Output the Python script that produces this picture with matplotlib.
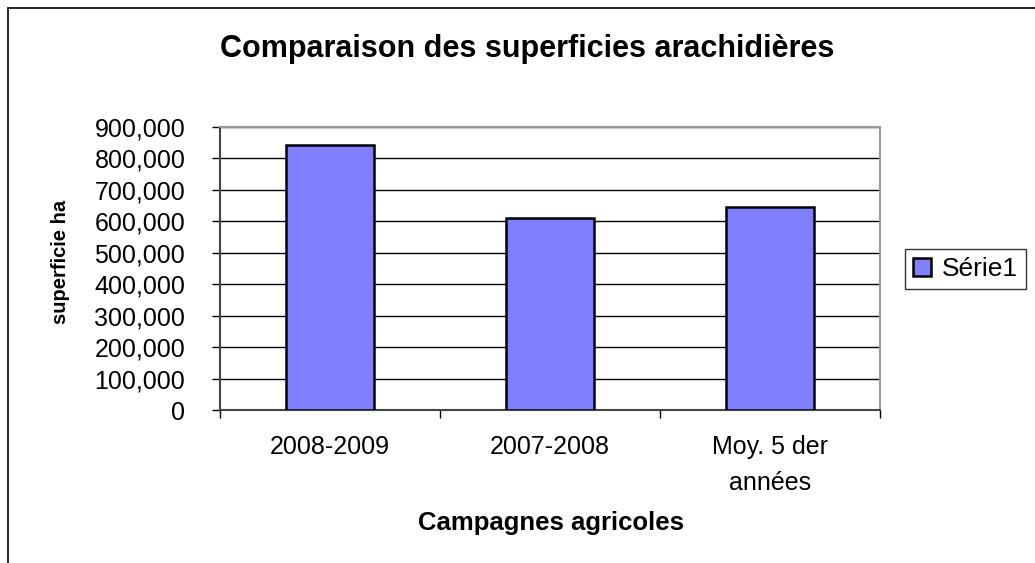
import matplotlib
matplotlib.use("Agg")
import matplotlib.pyplot as plt
from matplotlib.patches import Rectangle
from matplotlib.ticker import FuncFormatter

plt.rcParams['font.family'] = ['Liberation Sans', 'DejaVu Sans']

categories = ['2008-2009', '2007-2008', 'Moy. 5 der\nannées']
superficies = [842000, 610000, 646000]
series_name = 'Série1'

W, H = 1035, 563
fig = plt.figure(figsize=(W / 100, H / 100), dpi=100)

# cadre du graphique (bords droit et bas hors de l'image)
fig.patches.append(Rectangle((8 / W, -0.1), 1.2, 1.1 - 8 / H, transform=fig.transFigure,
                             fill=False, edgecolor='black', linewidth=1.2))

ax = fig.add_axes([220 / W, 1 - 410 / H, 660 / W, 283 / H])
x = range(len(categories))
ax.bar(x, superficies, width=0.4, color='#8080ff', edgecolor='black',
       linewidth=1.8, label=series_name, zorder=3)

ax.set_xlim(-0.5, 2.5)
ax.set_ylim(0, 900000)
ax.set_yticks(range(0, 900001, 100000))
ax.yaxis.set_major_formatter(FuncFormatter(lambda v, p: f'{int(v):,}'))
ax.set_xticks([-0.5, 0.5, 1.5, 2.5])
ax.set_xticklabels([])
ax.set_xticks(list(x), minor=True)
ax.set_xticklabels(categories, minor=True, fontsize=18, linespacing=1.65)
ax.tick_params(axis='x', which='minor', length=0, pad=18)
ax.tick_params(axis='x', which='major', length=6, direction='out', width=1)
ax.tick_params(axis='y', labelsize=18, length=6, direction='out', width=1, pad=19)

ax.grid(axis='y', color='black', linewidth=1, zorder=0)
for s in ['top', 'right']:
    ax.spines[s].set_color('#999999')
    ax.spines[s].set_linewidth(1.5)
for s in ['left', 'bottom']:
    ax.spines[s].set_color('#444444')
    ax.spines[s].set_linewidth(1.5)

fig.text(61 / W, 1 - 262 / H, 'superficie ha', rotation=90, fontsize=14.5,
         fontweight='bold', ha='center', va='center')
fig.text(551 / W, 1 - 523 / H, 'Campagnes agricoles', fontsize=18.5,
         fontweight='bold', ha='center', va='center')
fig.text(527 / W, 1 - 49 / H, 'Comparaison des superficies arachidières',
         fontsize=22, fontweight='bold', ha='center', va='center')

leg = ax.legend(loc='center left', bbox_to_anchor=(905 / W, 1 - 269 / H),
                bbox_transform=fig.transFigure, fontsize=19, frameon=True,
                fancybox=False, edgecolor='black', handlelength=0.7,
                handleheight=0.7, handletextpad=0.4, borderpad=0.3,
                borderaxespad=0)
leg.get_frame().set_linewidth(1)

fig.savefig('out.png', dpi=100)
